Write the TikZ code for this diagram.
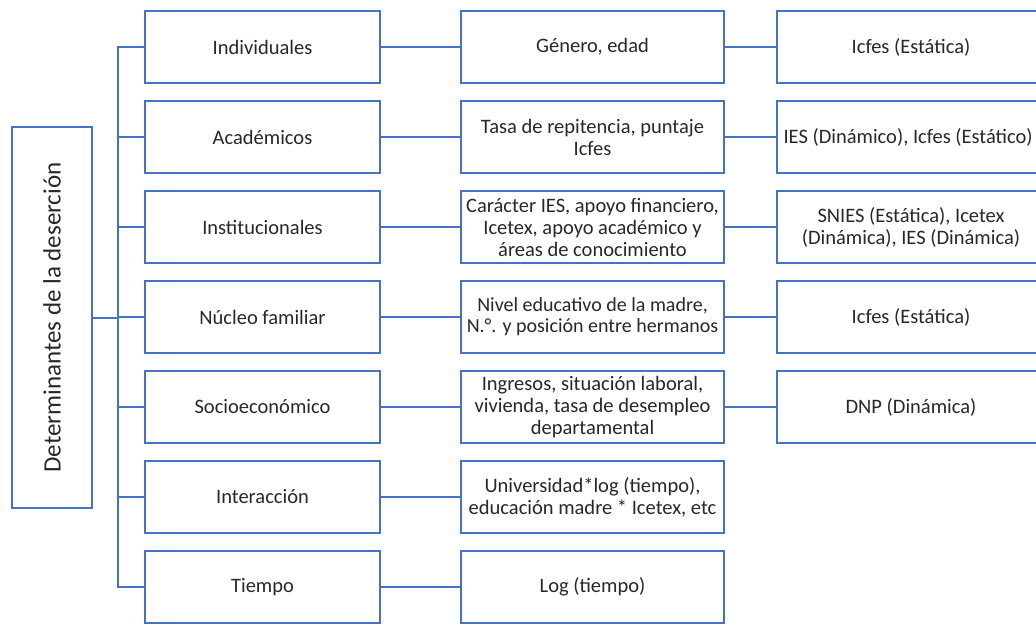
\documentclass[tikz,border=0pt]{standalone}
\usepackage{fontspec}
\setmainfont{Carlito}
\definecolor{boxblue}{RGB}{68,114,196}
\definecolor{txt}{RGB}{40,40,40}
\begin{document}
\begin{tikzpicture}[x=1pt,y=-1pt,
  every node/.style={font=\fontsize{20.5}{22}\selectfont, text=txt},
  tight/.style={font=\fontsize{20}{21}\selectfont},
  cbox/.style={draw=boxblue, line width=2pt, rectangle, align=center, minimum height=72pt, inner sep=1pt},
  cola/.style={cbox, minimum width=235pt},
  colb/.style={cbox, minimum width=263pt},
  colc/.style={cbox, minimum width=268pt},
  link/.style={draw=boxblue, line width=2pt}]
\useasboundingbox (0,0) rectangle (1036,624);
\clip (0,0) rectangle (1036,624);
\fill[white] (0,0) rectangle (1036,624);

\node[cbox, minimum width=80pt, minimum height=381pt] (root) at (52,317.5) {};
\node[rotate=90, font=\fontsize{25}{28}\selectfont] (roottxt) at (root.center) {Determinantes de la deserción};

\node[cola] (a1) at (262.5,47) {Individuales};
\node[cola] (a2) at (262.5,137) {Académicos};
\node[cola] (a3) at (262.5,227) {Institucionales};
\node[cola] (a4) at (262.5,317) {Núcleo familiar};
\node[cola] (a5) at (262.5,407) {Socioeconómico};
\node[cola] (a6) at (262.5,497) {Interacción};
\node[cola] (a7) at (262.5,587) {Tiempo};

\node[colb] (b1) at (592.5,47) {Género, edad};
\node[colb] (b2) at (592.5,137) {Tasa de repitencia, puntaje\\Icfes};
\node[colb] (b3) at (592.5,227) {Carácter IES, apoyo financiero,\\Icetex, apoyo académico y\\áreas de conocimiento};
\node[colb, tight] (b4) at (592.5,317) {Nivel educativo de la madre,\\N.°. y posición entre hermanos};
\node[colb] (b5) at (592.5,407) {Ingresos, situación laboral,\\vivienda, tasa de desempleo\\departamental};
\node[colb] (b6) at (592.5,497) {Universidad*log (tiempo),\\educación madre * Icetex, etc};
\node[colb] (b7) at (592.5,587) {Log (tiempo)};

\node[colc] (c1) at (911,47) {Icfes (Estática)};
\node[colc] (c2) at (911,137) {};
\node[anchor=west] (c2t) at (780,137) {IES (Dinámico), Icfes (Estático)};
\node[colc] (c3) at (911,227) {SNIES (Estática), Icetex\\(Dinámica), IES (Dinámica)};
\node[colc] (c4) at (911,317) {Icfes (Estática)};
\node[colc] (c5) at (911,407) {DNP (Dinámica)};

\coordinate (trunk) at (118,317.5);
\foreach \i in {1,...,7}{
  \draw[link] (root.east) -- (trunk) |- (a\i.west);
  \draw[link] (a\i.east) -- (b\i.west);
}
\foreach \i in {1,...,5}{
  \draw[link] (b\i.east) -- (c\i.west);
}
\end{tikzpicture}
\end{document}
